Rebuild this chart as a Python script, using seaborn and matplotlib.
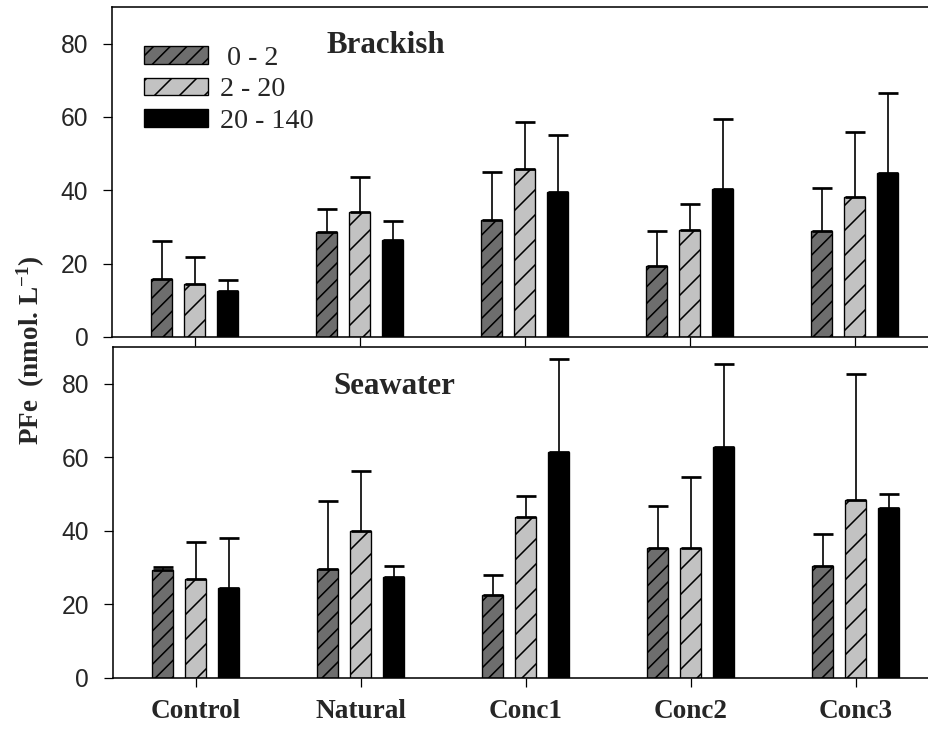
import matplotlib
matplotlib.use("Agg")
import matplotlib.pyplot as plt
from matplotlib.patches import Patch
import seaborn as sns
import pandas as pd

# Treatments and particle size classes
treatments = ["Control", "Natural", "Conc1", "Conc2", "Conc3"]
size_classes = ["0 - 2", "2 - 20", "20 - 140"]

# Brackish: mean PFe (nmol L-1) per size class
brackish_0_2 = [15.8, 28.7, 32.0, 19.3, 29.0]
brackish_2_20 = [14.5, 34.0, 45.8, 29.3, 38.2]
brackish_20_140 = [12.6, 26.5, 39.5, 40.4, 44.7]
# Brackish: upper error (SD)
brackish_err_0_2 = [10.4, 6.3, 13.0, 9.6, 11.7]
brackish_err_2_20 = [7.4, 9.7, 12.7, 7.0, 17.8]
brackish_err_20_140 = [3.0, 5.1, 15.5, 19.1, 21.8]

# Seawater: mean PFe (nmol L-1) per size class
seawater_0_2 = [29.3, 29.6, 22.4, 35.2, 30.3]
seawater_2_20 = [26.8, 39.8, 43.7, 35.2, 48.4]
seawater_20_140 = [24.4, 27.3, 61.4, 62.8, 46.1]
# Seawater: upper error (SD)
seawater_err_0_2 = [0.9, 18.5, 5.5, 11.5, 8.9]
seawater_err_2_20 = [10.0, 16.3, 5.6, 19.3, 34.2]
seawater_err_20_140 = [13.6, 3.1, 25.3, 22.6, 3.8]

y_ticks = [0, 20, 40, 60, 80]

DPI = 150
W, H = 928, 731

sns.set_style("ticks")
plt.rcParams["font.family"] = ["Liberation Serif", "DejaVu Serif"]
plt.rcParams["hatch.linewidth"] = 0.75
plt.rcParams["mathtext.fontset"] = "custom"
plt.rcParams["mathtext.rm"] = "Liberation Serif:bold"
plt.rcParams["mathtext.default"] = "rm"

bar_colors = ["#6e6e6e", "#c2c2c2", "#000000"]
hatches = ["///", "//", ""]


def long_table(v0, v1, v2):
    rows = []
    for size, vals in zip(size_classes, [v0, v1, v2]):
        for t, v in zip(treatments, vals):
            rows.append({"treatment": t, "size": size, "PFe": v})
    return pd.DataFrame(rows)


brackish = long_table(brackish_0_2, brackish_2_20, brackish_20_140)
seawater = long_table(seawater_0_2, seawater_2_20, seawater_20_140)
brackish_err = [brackish_err_0_2, brackish_err_2_20, brackish_err_20_140]
seawater_err = [seawater_err_0_2, seawater_err_2_20, seawater_err_20_140]

fig = plt.figure(figsize=(W / DPI, H / DPI), dpi=DPI)
fig.patch.set_facecolor("white")


def px_axes(left, right, top, bottom):
    return fig.add_axes([left / W, 1 - bottom / H, (right - left) / W, (bottom - top) / H])


ax_top = px_axes(112, 937, 7, 337)
ax_bot = px_axes(113, 938, 347, 677.5)


def draw_panel(ax, data, errs):
    sns.barplot(data=data, x="treatment", y="PFe", hue="size",
                hue_order=size_classes, order=treatments,
                palette=bar_colors, width=0.6, gap=0.36,
                edgecolor="black", linewidth=0.65, errorbar=None,
                legend=False, saturation=1, ax=ax)
    for container, hatch, err in zip(ax.containers, hatches, errs):
        for bar, e in zip(container, err):
            bar.set_hatch(hatch)
            x = bar.get_x() + bar.get_width() / 2
            y = bar.get_height()
            ax.errorbar(x, y, yerr=[[0], [e]], fmt="none", ecolor="black",
                        elinewidth=0.8, capsize=4.6, capthick=1.3, zorder=1)
    ax.set_xlim(-0.5, 4.5)
    ax.set_ylim(0, 90)
    ax.set_yticks(y_ticks)
    ax.set_xlabel("")
    ax.set_ylabel("")
    for s in ax.spines.values():
        s.set_linewidth(0.75)
        s.set_color("black")
    ax.tick_params(axis="both", direction="out", length=4.4, width=0.6, color="black")
    ax.tick_params(axis="y", pad=7.0)
    for lab in ax.get_yticklabels():
        lab.set_fontfamily("Liberation Sans")
        lab.set_fontsize(11.8)


draw_panel(ax_top, brackish, brackish_err)
draw_panel(ax_bot, seawater, seawater_err)

ax_top.tick_params(axis="x", labelbottom=False)
ax_bot.tick_params(axis="x", pad=5.8)
for lab in ax_bot.get_xticklabels():
    lab.set_fontweight("bold")
    lab.set_fontsize(13.1)

ax_top.text(0.2606, 0.861, "Brackish", transform=ax_top.transAxes,
            ha="left", va="baseline", fontsize=14.8, fontweight="bold")
ax_bot.text(0.2667, 0.857, "Seawater", transform=ax_bot.transAxes,
            ha="left", va="baseline", fontsize=14.8, fontweight="bold")

handles = [Patch(facecolor=c, edgecolor="black", hatch=h, linewidth=0.65)
           for c, h in zip(bar_colors, hatches)]
ax_top.legend(handles, [" 0 - 2", "2 - 20", "20 - 140"], loc="upper left",
              bbox_to_anchor=(0.0388, 0.883), frameon=False, fontsize=13.5,
              borderpad=0, borderaxespad=0, handlelength=2.28,
              handleheight=0.6, handletextpad=0.43, labelspacing=0.24)

fig.text(31 / W, 1 - 350 / H, "PFe  (nmol. L$^{-1}$)", rotation=90,
         ha="center", va="center", fontsize=13, fontweight="bold")

fig.savefig("out.png", dpi=DPI, facecolor="white")
